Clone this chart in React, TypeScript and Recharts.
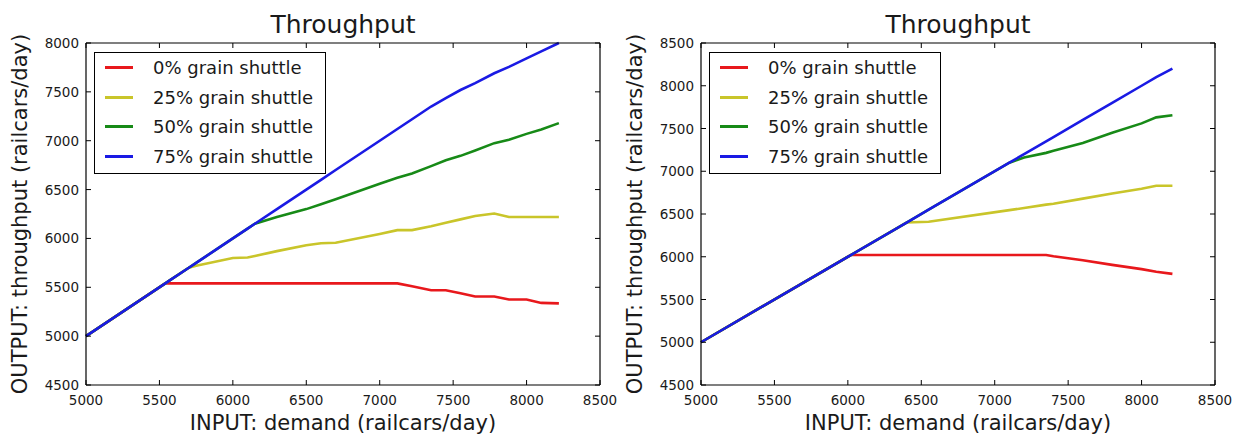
import { LineChart, Line, XAxis, YAxis, Legend, Label } from "recharts";

// left panel
const leftDemand = [5000, 5540, 5570, 5700, 5750, 6000, 6100, 6150, 6300, 6500, 6600, 6700, 7000, 7120, 7220, 7350, 7450, 7550, 7650, 7780, 7880, 8000, 8100, 8220];
const leftShuttle0 = [5000, 5540, 5540, 5540, 5540, 5540, 5540, 5540, 5540, 5540, 5540, 5540, 5540, 5540, 5510, 5470, 5470, 5440, 5405, 5405, 5375, 5375, 5340, 5335];
const leftShuttle25 = [5000, 5540, 5570, 5700, 5720, 5800, 5805, 5820, 5870, 5930, 5950, 5955, 6045, 6085, 6085, 6125, 6160, 6195, 6230, 6255, 6220, 6220, 6220, 6220];
const leftShuttle50 = [5000, 5540, 5570, 5700, 5750, 6000, 6100, 6150, 6220, 6300, 6350, 6400, 6560, 6620, 6665, 6740, 6800, 6845, 6900, 6975, 7010, 7070, 7115, 7180];
const leftShuttle75 = [5000, 5540, 5570, 5700, 5750, 6000, 6100, 6150, 6300, 6500, 6600, 6700, 7000, 7120, 7220, 7350, 7435, 7519, 7590, 7690, 7755, 7843, 7915, 8000];

// right panel
const rightDemand = [5000, 6020, 6400, 6550, 7100, 7200, 7350, 7400, 7600, 7800, 8000, 8100, 8210];
const rightShuttle0 = [5000, 6020, 6020, 6020, 6020, 6020, 6020, 6005, 5960, 5905, 5855, 5825, 5800];
const rightShuttle25 = [5000, 6020, 6400, 6410, 6545, 6570, 6610, 6620, 6680, 6740, 6795, 6830, 6830];
const rightShuttle50 = [5000, 6020, 6400, 6550, 7100, 7160, 7215, 7240, 7330, 7450, 7560, 7630, 7655];
const rightShuttle75 = [5000, 6020, 6400, 6550, 7100, 7200, 7350, 7400, 7600, 7800, 8000, 8100, 8200];

const xTicks = [5000, 5500, 6000, 6500, 7000, 7500, 8000, 8500];
const leftYTicks = [4500, 5000, 5500, 6000, 6500, 7000, 7500, 8000];
const rightYTicks = [4500, 5000, 5500, 6000, 6500, 7000, 7500, 8000, 8500];

const seriesNames = ["0% grain shuttle", "25% grain shuttle", "50% grain shuttle", "75% grain shuttle"];
const colors = ["#e8181c", "#c9c52a", "#178a17", "#1a1ae4"];

const FONT = "'DejaVu Sans', sans-serif";
const INK = "#1a1a1a";
const TICK_LEN = 5;

const toRows = (xs: number[], s0: number[], s25: number[], s50: number[], s75: number[]) =>
  xs.map((x, i) => ({ x, s0: s0[i], s25: s25[i], s50: s50[i], s75: s75[i] }));

const leftData = toRows(leftDemand, leftShuttle0, leftShuttle25, leftShuttle50, leftShuttle75);
const rightData = toRows(rightDemand, rightShuttle0, rightShuttle25, rightShuttle50, rightShuttle75);

// inward ticks, matplotlib style
const BottomTick = (p: any) => (
  <g>
    <line x1={p.x} x2={p.x} y1={p.y} y2={p.y - TICK_LEN} stroke="#000" />
    <text x={p.x} y={p.y + 20} textAnchor="middle" fontFamily={FONT} fontSize={13.5} fill={INK}>
      {p.payload.value}
    </text>
  </g>
);
const LeftTick = (p: any) => (
  <g>
    <line x1={p.x} x2={p.x + TICK_LEN} y1={p.y} y2={p.y} stroke="#000" />
    <text x={p.x - 7} y={p.y + 5} textAnchor="end" fontFamily={FONT} fontSize={13.5} fill={INK}>
      {p.payload.value}
    </text>
  </g>
);
const TopTick = (p: any) => <line x1={p.x} x2={p.x} y1={p.y} y2={p.y + TICK_LEN} stroke="#000" />;
const RightTick = (p: any) => <line x1={p.x} x2={p.x - TICK_LEN} y1={p.y} y2={p.y} stroke="#000" />;

const YTitle = (props: any) => {
  const vb = props.viewBox;
  const x = vb.x + vb.width - 59;
  const y = vb.y + vb.height / 2;
  return (
    <text x={x} y={y} transform={`rotate(-90 ${x} ${y})`} textAnchor="middle"
      fontFamily={FONT} fontSize={21} fill={INK}>
      OUTPUT: throughput (railcars/day)
    </text>
  );
};

const renderLegend = (props: any) => (
  <div style={{ border: "1px solid #000", background: "#fff", width: 232, boxSizing: "border-box", paddingBottom: 2 }}>
    {(props.payload || []).filter((entry: any) => entry.type !== "none").map((entry: any) => (
      <div key={entry.value} style={{ display: "flex", alignItems: "center", height: 29.6 }}>
        <span style={{ display: "inline-block", width: 28, height: 3, background: entry.color, marginLeft: 10, marginRight: 20 }} />
        <span style={{ fontFamily: FONT, fontSize: 18, color: INK, whiteSpace: "nowrap" }}>{entry.value}</span>
      </div>
    ))}
  </div>
);

type PanelProps = {
  data: any[];
  width: number;
  axisWidth: number;
  rightMargin: number;
  yDomain: [number, number];
  yTicks: number[];
};

const frame = { stroke: "#000", strokeWidth: 1.2 };

function Panel({ data, width, axisWidth, rightMargin, yDomain, yTicks }: PanelProps) {
  return (
    <LineChart width={width} height={436} data={data}
      margin={{ top: 42, right: rightMargin - 1, bottom: 0, left: 0 }}>
      <XAxis dataKey="x" type="number" domain={[5000, 8500]} ticks={xTicks} interval={0}
        height={51} tickSize={0} tickMargin={0} tickLine={false} tick={BottomTick} axisLine={frame}>
        <Label value="INPUT: demand (railcars/day)" position="insideBottom" offset={6}
          style={{ fontFamily: FONT, fontSize: 21, fill: INK }} />
      </XAxis>
      <XAxis xAxisId="top" orientation="top" dataKey="x" type="number" domain={[5000, 8500]} ticks={xTicks}
        interval={0} height={1} tickSize={0} tickMargin={0} tickLine={false} tick={TopTick} axisLine={frame}>
        <Label value="Throughput" position="top" offset={9}
          style={{ fontFamily: FONT, fontSize: 25, fill: INK }} />
      </XAxis>
      <YAxis type="number" domain={yDomain} ticks={yTicks} interval={0} width={axisWidth}
        tickSize={0} tickMargin={0} tickLine={false} tick={LeftTick} axisLine={frame}>
        <Label content={YTitle} />
      </YAxis>
      <YAxis yAxisId="right" orientation="right" type="number" domain={yDomain} ticks={yTicks} interval={0}
        width={1} tickSize={0} tickMargin={0} tickLine={false} tick={RightTick} axisLine={frame} />
      <Legend layout="horizontal" verticalAlign="middle" align="center" content={renderLegend}
        wrapperStyle={{ left: axisWidth + 8, top: 52, width: 232 }} />
      {["s0", "s25", "s50", "s75"].map((key, i) => (
        <Line key={key} dataKey={key} name={seriesNames[i]} type="linear" stroke={colors[i]}
          strokeWidth={2.6} dot={false} isAnimationActive={false} />
      ))}
      {/* carrier series so the top and right frame axes get drawn */}
      <Line xAxisId="top" yAxisId="right" dataKey="s75" stroke="none" legendType="none"
        dot={false} activeDot={false} isAnimationActive={false} />
    </LineChart>
  );
}

export default function App() {
  return (
    <div style={{ position: "absolute", left: 0, top: 0, width: 1243, height: 436, display: "flex", background: "#fff" }}>
      <Panel data={leftData} width={620} axisWidth={86} rightMargin={20} yDomain={[4500, 8000]} yTicks={leftYTicks} />
      <Panel data={rightData} width={623} axisWidth={81} rightMargin={28} yDomain={[4500, 8500]} yTicks={rightYTicks} />
    </div>
  );
}
